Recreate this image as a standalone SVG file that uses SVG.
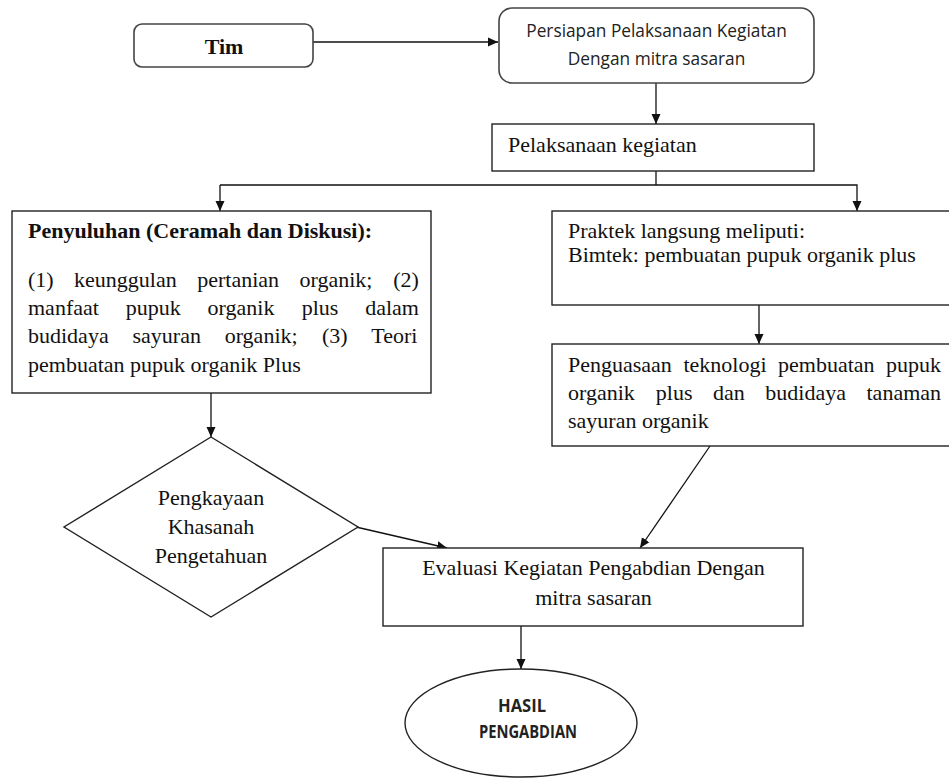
<svg xmlns="http://www.w3.org/2000/svg" width="949" height="780" viewBox="0 0 949 780">
<style>
.box{fill:#fff;stroke:#222;stroke-width:1.4}
.rbox{fill:#fff;stroke:#444;stroke-width:1.6}
.con{fill:none;stroke:#111;stroke-width:1.3}
.serif{font-family:"Liberation Serif","Times New Roman",serif;font-size:22px;fill:#111}
.sans{font-family:"Open Sans","Noto Sans",sans-serif;font-size:17.3px;fill:#222}
.sansb{font-family:"Open Sans","Noto Sans",sans-serif;font-size:17px;font-weight:700;fill:#222}
.b{font-weight:700}
.mid{text-anchor:middle}
</style>
<defs>
<marker id="ah" markerUnits="userSpaceOnUse" markerWidth="10" markerHeight="10" refX="10" refY="5" orient="auto" viewBox="0 0 10 10">
<path d="M0,0.5 L10,5 L0,9.5 z" fill="#111"/>
</marker>
</defs>
<rect width="949" height="780" fill="#fff"/>

<g id="connectors">
<line class="con" x1="313" y1="42" x2="498" y2="42" marker-end="url(#ah)"/>
<line class="con" x1="656" y1="83" x2="656" y2="124" marker-end="url(#ah)"/>
<polyline class="con" points="656,171 656,185"/>
<polyline class="con" points="220,185 857,185 857,211" marker-end="url(#ah)"/>
<line class="con" x1="220" y1="185" x2="220" y2="211" marker-end="url(#ah)"/>
<line class="con" x1="211" y1="393" x2="211" y2="437" marker-end="url(#ah)"/>
<line class="con" x1="759" y1="305" x2="759" y2="344" marker-end="url(#ah)"/>
<line class="con" x1="356" y1="527" x2="447" y2="548" marker-end="url(#ah)"/>
<line class="con" x1="710" y1="446" x2="640" y2="548" marker-end="url(#ah)"/>
<line class="con" x1="521" y1="624" x2="521" y2="669" marker-end="url(#ah)"/>
</g>

<g id="tim">
<rect class="rbox" x="134" y="24" width="179" height="43" rx="8"/>
<text class="serif b mid" x="224" y="54">Tim</text>
</g>

<g id="persiapan">
<rect class="rbox" x="499" y="8" width="315" height="75" rx="13"/>
<text class="sans mid" x="656.5" y="37">Persiapan Pelaksanaan Kegiatan</text>
<text class="sans mid" x="656.5" y="65">Dengan mitra sasaran</text>
</g>

<g id="pelaksanaan">
<rect class="box" x="492" y="124" width="322" height="47"/>
<text class="serif" x="508" y="152">Pelaksanaan kegiatan</text>
</g>

<g id="penyuluhan">
<rect class="box" x="12" y="211" width="419" height="182"/>
<text class="serif b" x="28" y="238">Penyuluhan (Ceramah dan Diskusi):</text>
<text class="serif" y="287"><tspan x="28">(1)</tspan><tspan x="74.1">keunggulan</tspan><tspan x="197.2">pertanian</tspan><tspan x="299.5">organik;</tspan><tspan x="393.3">(2)</tspan></text>
<text class="serif" y="315"><tspan x="28">manfaat</tspan><tspan x="125.7">pupuk</tspan><tspan x="207.6">organik</tspan><tspan x="301.7">plus</tspan><tspan x="365.2">dalam</tspan></text>
<text class="serif" y="343"><tspan x="28">budidaya</tspan><tspan x="132.5">sayuran</tspan><tspan x="224.7">organik;</tspan><tspan x="321.9">(3)</tspan><tspan x="371.3">Teori</tspan></text>
<text class="serif" x="28" y="372">pembuatan pupuk organik Plus</text>
</g>

<g id="praktek">
<rect class="box" x="552" y="211" width="420" height="94"/>
<text class="serif" x="568" y="238">Praktek langsung meliputi:</text>
<text class="serif" x="568" y="262">Bimtek: pembuatan pupuk organik plus</text>
</g>

<g id="penguasaan">
<rect class="box" x="552" y="344" width="420" height="102"/>
<text class="serif" y="372"><tspan x="568">Penguasaan</tspan><tspan x="683.4">teknologi</tspan><tspan x="778">pembuatan</tspan><tspan x="886">pupuk</tspan></text>
<text class="serif" y="400"><tspan x="568">organik</tspan><tspan x="655.8">plus</tspan><tspan x="713">dan</tspan><tspan x="765.3">budidaya</tspan><tspan x="866.5">tanaman</tspan></text>
<text class="serif" x="568" y="428">sayuran organik</text>
</g>

<g id="pengkayaan">
<polygon class="box" points="211,437 358,527 211,617 64,527"/>
<text class="serif mid" x="211" y="505">Pengkayaan</text>
<text class="serif mid" x="211" y="534">Khasanah</text>
<text class="serif mid" x="211" y="563">Pengetahuan</text>
</g>

<g id="evaluasi">
<rect class="box" x="383" y="548" width="420" height="78"/>
<text class="serif mid" x="593.5" y="575">Evaluasi Kegiatan Pengabdian Dengan</text>
<text class="serif mid" x="593.5" y="605">mitra sasaran</text>
</g>

<g id="hasil">
<ellipse class="box" cx="521" cy="723" rx="116" ry="54"/>
<text class="sansb mid" x="522" y="712" textLength="48" lengthAdjust="spacingAndGlyphs">HASIL</text>
<text class="sansb mid" x="528" y="738" textLength="98" lengthAdjust="spacingAndGlyphs">PENGABDIAN</text>
</g>
</svg>
